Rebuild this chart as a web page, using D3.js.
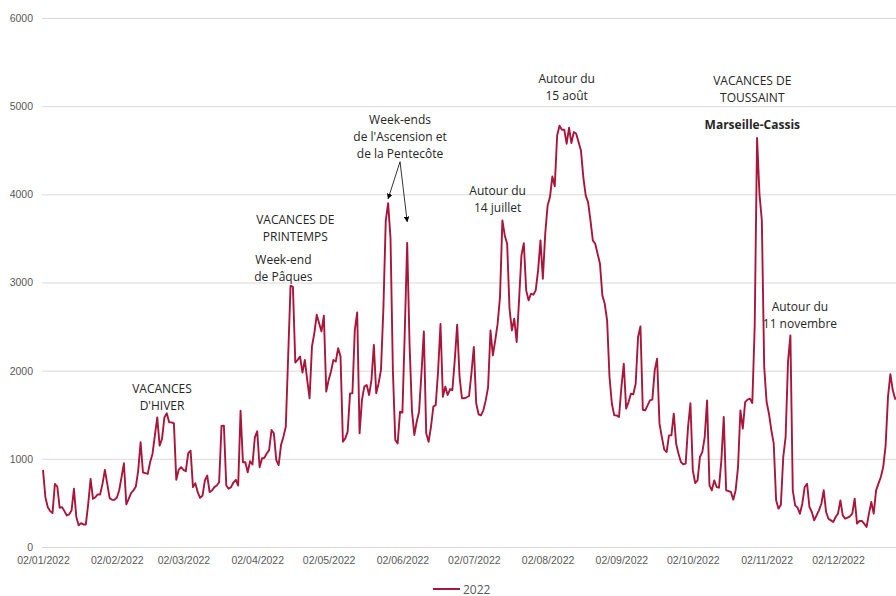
<!DOCTYPE html>
<html>
<head>
<meta charset="utf-8">
<script src="https://cdn.jsdelivr.net/npm/d3@7"></script>
<style>
  body { margin: 0; background: #fff; }
  svg { display: block; font-family: "Open Sans", sans-serif; }
</style>
</head>
<body>
<div id="chart"></div>
<script>
// daily series, first value = 02/01/2022
const startDay = "2022-01-02";
const seriesName = "2022";
const visits = [
  875, 565, 452, 407, 385, 716, 686, 445, 452, 407, 358, 370, 415, 660, 340, 245, 271, 256, 256, 490,
  773, 547, 565, 596, 596, 716, 875, 716, 554, 535, 535, 558, 641, 792, 950, 483, 547, 611, 641, 686,
  867, 1188, 845, 837, 829, 961, 1056, 1263, 1470, 1150, 1225, 1470, 1516, 1414, 1414, 1402, 762, 875, 905, 875,
  860, 1063, 1093, 679, 724, 622, 558, 581, 754, 810, 622, 641, 679, 697, 735, 1372, 1376, 697, 660, 679,
  731, 762, 697, 1546, 961, 961, 848, 973, 935, 1244, 1312, 905, 1004, 1012, 1061, 1099, 1327, 1289, 985, 929,
  1156, 1251, 1364, 2160, 2964, 2950, 2092, 2122, 2160, 1978, 2122, 1895, 1687, 2274, 2426, 2634, 2539, 2445, 2623, 1762,
  1895, 1990, 2122, 2103, 2255, 2160, 1194, 1232, 1308, 1743, 1743, 2463, 2660, 1289, 1668, 1819, 1838, 1724, 1895, 2293,
  1743, 1857, 2009, 2700, 3700, 3900, 3500, 2000, 1213, 1175, 1535, 1524, 2450, 3450, 2300, 1550, 1270, 1421, 1535, 1970,
  2445, 1289, 1194, 1364, 1592, 1611, 2000, 2530, 1705, 1819, 1724, 1789, 1781, 2122, 2520, 1933, 1687, 1687, 1698, 1713,
  1971, 2270, 1630, 1505, 1493, 1550, 1663, 1814, 2457, 2173, 2344, 2533, 2835, 3704, 3534, 3440, 2700, 2457, 2589, 2325,
  2797, 3307, 3447, 2911, 2797, 2873, 2861, 2911, 3137, 3478, 3043, 3553, 3874, 3969, 4203, 4090, 4668, 4778, 4733, 4733,
  4574, 4755, 4581, 4706, 4687, 4593, 4498, 4196, 3988, 3912, 3704, 3478, 3440, 3326, 3213, 2854, 2759, 2570, 1928, 1625,
  1493, 1493, 1474, 1814, 2079, 1569, 1644, 1739, 1731, 1852, 2381, 2502, 1557, 1550, 1607, 1663, 1671, 2003, 2136, 1399,
  1247, 1104, 1077, 1266, 1266, 1512, 1172, 1058, 964, 937, 945, 1361, 1630, 869, 726, 756, 1021, 1077, 1247, 1663,
  699, 643, 756, 680, 673, 983, 1474, 643, 635, 624, 537, 643, 907, 1550, 1342, 1644, 1671, 1682, 1633, 2500,
  4640, 4007, 3704, 2041, 1644, 1512, 1323, 1172, 529, 435, 480, 1020, 1250, 2100, 2400, 643, 472, 446, 378, 491,
  680, 718, 454, 397, 302, 359, 416, 491, 643, 397, 321, 302, 283, 340, 378, 529, 359, 321, 333, 348,
  378, 548, 265, 295, 295, 265, 227, 378, 510, 378, 643, 718, 794, 907, 1150, 1700, 1960, 1780, 1680, 1700
];

const yTicks = [0, 1000, 2000, 3000, 4000, 5000, 6000];
const xTickLabels = ["02/01/2022", "02/02/2022", "02/03/2022", "02/04/2022", "02/05/2022", "02/06/2022",
  "02/07/2022", "02/08/2022", "02/09/2022", "02/10/2022", "02/11/2022", "02/12/2022"];

// annotations: anchor date + value of first text line
const notes = [
  { date: "2022-02-21", value: 1800, lines: ["VACANCES", "D'HIVER"] },
  { date: "2022-04-18", value: 3720, lines: ["VACANCES DE", "PRINTEMPS"] },
  { date: "2022-04-13", value: 3270, lines: ["Week-end", "de Pâques"] },
  { date: "2022-06-01", value: 4860, lines: ["Week-ends", "de l'Ascension et", "de la Pentecôte"] },
  { date: "2022-07-12", value: 4050, lines: ["Autour du", "14 juillet"] },
  { date: "2022-08-10", value: 5320, lines: ["Autour du", "15 août"] },
  { date: "2022-10-27", value: 5300, lines: ["VACANCES DE", "TOUSSAINT"] },
  { date: "2022-10-27", value: 4800, lines: ["Marseille-Cassis"], bold: true },
  { date: "2022-11-16", value: 2730, lines: ["Autour du", "11 novembre"] }
];
const arrows = [
  { from: ["2022-06-01", 4370], to: ["2022-05-27", 3950] },
  { from: ["2022-06-01", 4370], to: ["2022-06-04", 3690] }
];

const width = 896, height = 596;
const color = "#a8163b";
const parse = d3.timeParse("%Y-%m-%d");
const t0 = parse(startDay);
const data = visits.map((v, i) => ({ date: d3.timeDay.offset(t0, i), value: v }));

const svg = d3.select("#chart").append("svg")
  .attr("width", width).attr("height", height);

const x = d3.scaleTime()
  .domain([parse("2022-01-02"), parse("2022-12-02")])
  .range([43, 838]);
const y = d3.scaleLinear()
  .domain([0, 6000])
  .range([547, 18]);

// gridlines + y labels
svg.append("g")
  .attr("transform", "translate(42,0)")
  .call(d3.axisLeft(y).tickValues(yTicks).tickFormat(d3.format("d")).tickSize(-(width - 42)).tickPadding(9))
  .call(g => g.select(".domain").remove())
  .call(g => g.selectAll(".tick line").attr("stroke", "#d9d9d9"))
  .call(g => g.selectAll(".tick text").attr("fill", "#595959").attr("font-size", "10.5px"));

// x labels
const fmt = d3.timeFormat("%d/%m/%Y");
const xTickDates = xTickLabels.map(s => d3.timeParse("%d/%m/%Y")(s));
svg.append("g")
  .attr("transform", "translate(0,547)")
  .call(d3.axisBottom(x).tickValues(xTickDates).tickFormat(fmt).tickSize(0).tickPadding(10))
  .call(g => g.select(".domain").remove())
  .call(g => g.selectAll(".tick text").attr("fill", "#595959").attr("font-size", "10.5px"));

// the line
svg.append("path")
  .datum(data)
  .attr("fill", "none")
  .attr("stroke", color)
  .attr("stroke-width", 1.9)
  .attr("stroke-linejoin", "round")
  .attr("d", d3.line().x(d => x(d.date)).y(d => y(d.value)));

// annotations
const ng = svg.append("g").attr("fill", "#262626").attr("font-size", "12px").attr("text-anchor", "middle");
notes.forEach(n => {
  const t = ng.append("text")
    .attr("x", x(parse(n.date)))
    .attr("y", y(n.value))
    .attr("dominant-baseline", "central")
    .attr("font-weight", n.bold ? "bold" : null);
  n.lines.forEach((l, i) => {
    t.append("tspan").attr("x", x(parse(n.date))).attr("dy", i ? 17 : 0).text(l);
  });
});

svg.append("defs").append("marker")
  .attr("id", "head")
  .attr("viewBox", "0 0 10 10")
  .attr("refX", 9).attr("refY", 5)
  .attr("markerWidth", 7).attr("markerHeight", 7)
  .attr("orient", "auto")
  .append("path").attr("d", "M0,0L10,5L0,10z").attr("fill", "#000");

svg.append("g").selectAll("line")
  .data(arrows)
  .join("line")
  .attr("x1", d => x(parse(d.from[0]))).attr("y1", d => y(d.from[1]))
  .attr("x2", d => x(parse(d.to[0]))).attr("y2", d => y(d.to[1]))
  .attr("stroke", "#000").attr("stroke-width", 0.8)
  .attr("marker-end", "url(#head)");

// legend
const lg = svg.append("g").attr("transform", "translate(433,589)");
lg.append("line").attr("x1", 0).attr("x2", 27).attr("stroke", color).attr("stroke-width", 2);
lg.append("text").attr("x", 30).attr("dominant-baseline", "central")
  .attr("fill", "#595959").attr("font-size", "12px").text(seriesName);
</script>
</body>
</html>
